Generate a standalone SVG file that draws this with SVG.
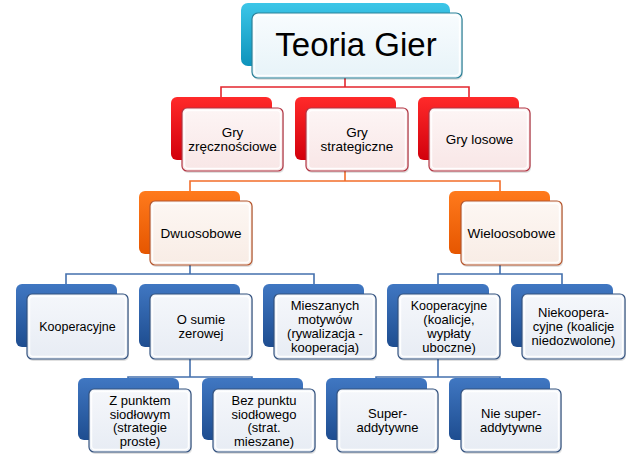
<svg xmlns="http://www.w3.org/2000/svg" width="640" height="459" viewBox="0 0 640 459">
<defs>
<linearGradient id="gTeal" x1="0" y1="0" x2="0" y2="1"><stop offset="0" stop-color="#3cc6e8"/><stop offset="1" stop-color="#0e93bb"/></linearGradient>
<linearGradient id="gRed" x1="0" y1="0" x2="0" y2="1"><stop offset="0" stop-color="#ff2a2a"/><stop offset="1" stop-color="#d2000c"/></linearGradient>
<linearGradient id="gOrange" x1="0" y1="0" x2="0" y2="1"><stop offset="0" stop-color="#ff7a1c"/><stop offset="1" stop-color="#e65600"/></linearGradient>
<linearGradient id="gBlue" x1="0" y1="0" x2="0" y2="1"><stop offset="0" stop-color="#4077c2"/><stop offset="1" stop-color="#1e4d90"/></linearGradient>
<linearGradient id="fTeal" x1="0" y1="0" x2="0" y2="1"><stop offset="0" stop-color="#f8fcfe"/><stop offset="1" stop-color="#e7f3f8"/></linearGradient>
<linearGradient id="fRed" x1="0" y1="0" x2="0" y2="1"><stop offset="0" stop-color="#fdf5f5"/><stop offset="1" stop-color="#f8e6e6"/></linearGradient>
<linearGradient id="fOrange" x1="0" y1="0" x2="0" y2="1"><stop offset="0" stop-color="#fdf7f3"/><stop offset="1" stop-color="#f8ece5"/></linearGradient>
<linearGradient id="fBlue" x1="0" y1="0" x2="0" y2="1"><stop offset="0" stop-color="#f5f7fb"/><stop offset="1" stop-color="#e7ecf4"/></linearGradient>
</defs>
<style>
.bk{stroke:none}
.teal .bk{fill:url(#gTeal)}
.red .bk{fill:url(#gRed)}
.orange .bk{fill:url(#gOrange)}
.blue .bk{fill:url(#gBlue)}
.fr{stroke-width:1.2}
.teal .fr{fill:url(#fTeal);stroke:#2b8198}
.red .fr{fill:url(#fRed);stroke:#b23442}
.orange .fr{fill:url(#fOrange);stroke:#b4552c}
.blue .fr{fill:url(#fBlue);stroke:#33527f}
.hl{fill:none;stroke:#ffffff;stroke-opacity:0.9;stroke-width:1.5}
.sh{fill:#000;fill-opacity:0.12}
text{font-family:"Liberation Sans",Arial,sans-serif;fill:#000;text-anchor:middle}
.t1{font-size:13.5px}
.t3{font-size:13px}
.tk{font-size:12.5px}
.con{fill:none;stroke-width:1.6}
.cr{stroke:#e3262e}
.co{stroke:#f26d2a}
.cb{stroke:#4470ad}
</style>

<g id="connectors">
<path class="con cr" d="M345,78V87M221,97V87H469V97"/>
<path class="con co" d="M345,171V181M190,191V181H500V191"/>
<path class="con cb" d="M190,265V274M66,284V274H314V284"/>
<path class="con cb" d="M500,265V274M438,284V274H562V284"/>
<path class="con cb" d="M190,359V377M128,379V377H252V379"/>
<path class="con cb" d="M438,359V377M376,379V377H500V379"/>
</g>

<g id="n-teoria" class="teal">
<rect class="bk" x="241" y="3" width="209" height="63" rx="7"/>
<rect class="sh" x="253" y="15" width="210" height="65" rx="6"/>
<rect class="fr" x="252" y="13" width="210" height="65" rx="6"/>
<rect class="hl" x="254.5" y="15.5" width="205" height="60" rx="4"/>
<text x="356" y="56" style="font-size:33px">Teoria Gier</text>
</g>

<g id="n-zrecz" class="red">
<rect class="bk" x="171" y="97" width="101" height="63" rx="6"/>
<rect class="sh" x="183" y="110" width="101" height="63" rx="5"/>
<rect class="fr" x="182" y="108" width="101" height="63" rx="5"/>
<rect class="hl" x="184.5" y="110.5" width="96" height="58" rx="3.5"/>
<text class="t1" x="232.5" y="137">Gry</text>
<text class="t1" x="232.5" y="151">zręcznościowe</text>
</g>

<g id="n-strat" class="red">
<rect class="bk" x="295" y="97" width="101" height="63" rx="6"/>
<rect class="sh" x="307" y="110" width="102" height="63" rx="5"/>
<rect class="fr" x="306" y="108" width="102" height="63" rx="5"/>
<rect class="hl" x="308.5" y="110.5" width="97" height="58" rx="3.5"/>
<text class="t1" x="357" y="137">Gry</text>
<text class="t1" x="357" y="151">strategiczne</text>
</g>

<g id="n-losowe" class="red">
<rect class="bk" x="418" y="97" width="101" height="63" rx="6"/>
<rect class="sh" x="430" y="110" width="101" height="63" rx="5"/>
<rect class="fr" x="429" y="108" width="101" height="63" rx="5"/>
<rect class="hl" x="431.5" y="110.5" width="96" height="58" rx="3.5"/>
<text class="t1" x="479.5" y="144">Gry losowe</text>
</g>

<g id="n-dwu" class="orange">
<rect class="bk" x="139" y="191" width="101" height="63" rx="6"/>
<rect class="sh" x="151" y="203" width="102" height="64" rx="5"/>
<rect class="fr" x="150" y="201" width="102" height="64" rx="5"/>
<rect class="hl" x="152.5" y="203.5" width="97" height="59" rx="3.5"/>
<text class="t1" x="201" y="237.5">Dwuosobowe</text>
</g>

<g id="n-wielo" class="orange">
<rect class="bk" x="449" y="191" width="101" height="63" rx="6"/>
<rect class="sh" x="462" y="203" width="101" height="64" rx="5"/>
<rect class="fr" x="461" y="201" width="101" height="64" rx="5"/>
<rect class="hl" x="463.5" y="203.5" width="96" height="59" rx="3.5"/>
<text class="t1" x="511.5" y="237.5">Wieloosobowe</text>
</g>

<g id="n-koop" class="blue">
<rect class="bk" x="16" y="284" width="101" height="63" rx="6"/>
<rect class="sh" x="28" y="296" width="101" height="65" rx="5"/>
<rect class="fr" x="27" y="294" width="101" height="65" rx="5"/>
<rect class="hl" x="29.5" y="296.5" width="96" height="60" rx="3.5"/>
<text class="tk" x="77.5" y="331">Kooperacyjne</text>
</g>

<g id="n-osumie" class="blue">
<rect class="bk" x="139" y="284" width="101" height="63" rx="6"/>
<rect class="sh" x="151" y="296" width="102" height="65" rx="5"/>
<rect class="fr" x="150" y="294" width="102" height="65" rx="5"/>
<rect class="hl" x="152.5" y="296.5" width="97" height="60" rx="3.5"/>
<text class="t3" x="201" y="324">O sumie</text>
<text class="t3" x="201" y="338">zerowej</text>
</g>

<g id="n-miesz" class="blue">
<rect class="bk" x="263" y="284" width="101" height="63" rx="6"/>
<rect class="sh" x="275" y="296" width="102" height="65" rx="5"/>
<rect class="fr" x="274" y="294" width="102" height="65" rx="5"/>
<rect class="hl" x="276.5" y="296.5" width="97" height="60" rx="3.5"/>
<text class="t3" x="325" y="310">Mieszanych</text>
<text class="t3" x="325" y="324">motywów</text>
<text class="t3" x="325" y="338">(rywalizacja -</text>
<text class="t3" x="325" y="352">kooperacja)</text>
</g>

<g id="n-koal" class="blue">
<rect class="bk" x="387" y="284" width="102" height="63" rx="6"/>
<rect class="sh" x="399" y="296" width="102" height="65" rx="5"/>
<rect class="fr" x="398" y="294" width="102" height="65" rx="5"/>
<rect class="hl" x="400.5" y="296.5" width="97" height="60" rx="3.5"/>
<text class="tk" x="449" y="310">Kooperacyjne</text>
<text class="t3" x="449" y="324">(koalicje,</text>
<text class="t3" x="449" y="338">wypłaty</text>
<text class="t3" x="449" y="352">uboczne)</text>
</g>

<g id="n-niekoop" class="blue">
<rect class="bk" x="511" y="284" width="102" height="63" rx="6"/>
<rect class="sh" x="523" y="296" width="103" height="65" rx="5"/>
<rect class="fr" x="522" y="294" width="103" height="65" rx="5"/>
<rect class="hl" x="524.5" y="296.5" width="98" height="60" rx="3.5"/>
<text class="t3" x="573.5" y="317">Niekoopera-</text>
<text class="t3" x="573.5" y="331">cyjne (koalicje</text>
<text class="t3" x="573.5" y="345">niedozwolone)</text>
</g>

<g id="n-zpunkt" class="blue">
<rect class="bk" x="78" y="378" width="101" height="62" rx="6"/>
<rect class="sh" x="90" y="391" width="102" height="63" rx="5"/>
<rect class="fr" x="89" y="389" width="102" height="63" rx="5"/>
<rect class="hl" x="91.5" y="391.5" width="97" height="58" rx="3.5"/>
<text class="t3" x="140" y="405">Z punktem</text>
<text class="t3" x="140" y="418.5">siodłowym</text>
<text class="t3" x="140" y="432">(strategie</text>
<text class="t3" x="140" y="445.5">proste)</text>
</g>

<g id="n-bezpunkt" class="blue">
<rect class="bk" x="202" y="378" width="101" height="62" rx="6"/>
<rect class="sh" x="214" y="391" width="102" height="63" rx="5"/>
<rect class="fr" x="213" y="389" width="102" height="63" rx="5"/>
<rect class="hl" x="215.5" y="391.5" width="97" height="58" rx="3.5"/>
<text class="t3" x="264" y="405">Bez punktu</text>
<text class="t3" x="264" y="418.5">siodłowego</text>
<text class="t3" x="264" y="432">(strat.</text>
<text class="t3" x="264" y="445.5">mieszane)</text>
</g>

<g id="n-super" class="blue">
<rect class="bk" x="326" y="378" width="101" height="62" rx="6"/>
<rect class="sh" x="338" y="391" width="101" height="63" rx="5"/>
<rect class="fr" x="337" y="389" width="101" height="63" rx="5"/>
<rect class="hl" x="339.5" y="391.5" width="96" height="58" rx="3.5"/>
<text class="t3" x="387.5" y="418">Super-</text>
<text class="t3" x="387.5" y="432">addytywne</text>
</g>

<g id="n-niesuper" class="blue">
<rect class="bk" x="449" y="378" width="101" height="62" rx="6"/>
<rect class="sh" x="462" y="391" width="100" height="63" rx="5"/>
<rect class="fr" x="461" y="389" width="100" height="63" rx="5"/>
<rect class="hl" x="463.5" y="391.5" width="95" height="58" rx="3.5"/>
<text class="t3" x="511" y="418">Nie super-</text>
<text class="t3" x="511" y="432">addytywne</text>
</g>
</svg>
